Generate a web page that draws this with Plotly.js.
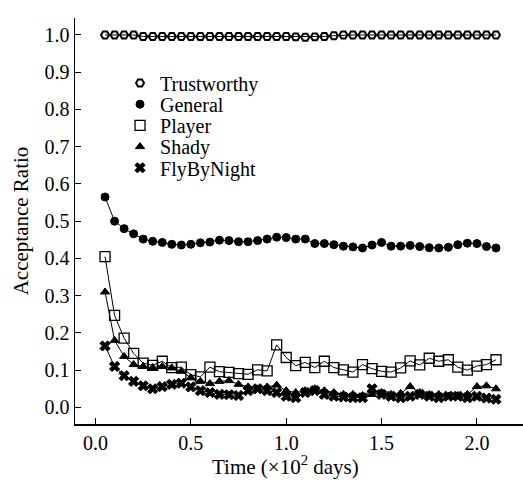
<!DOCTYPE html>
<html>
<head>
<meta charset="utf-8">
<script src="https://cdn.plot.ly/plotly-3.0.1.min.js"></script>
<style>html,body{margin:0;padding:0;background:#fff;}#chart{width:523px;height:488px;}</style>
</head>
<body>
<div id="chart"></div>
<script>
var time = [0.05,0.10,0.15,0.20,0.25,0.30,0.35,0.40,0.45,0.50,0.55,0.60,0.65,0.70,0.75,0.80,0.85,0.90,0.95,1.00,1.05,1.10,1.15,1.20,1.25,1.30,1.35,1.40,1.45,1.50,1.55,1.60,1.65,1.70,1.75,1.80,1.85,1.90,1.95,2.00,2.05,2.10];

var trustworthy = [1.0,1.0,1.0,1.0,0.996,0.996,0.996,0.996,0.996,0.996,0.996,0.996,0.996,0.996,0.996,0.996,0.996,0.996,0.996,0.996,0.995,0.994,0.995,0.996,0.998,1.0,1.0,1.0,1.0,1.0,1.0,1.0,1.0,1.0,1.0,1.0,1.0,1.0,1.0,1.0,1.0,1.0];
var general = [0.565,0.500,0.480,0.466,0.452,0.446,0.443,0.438,0.436,0.438,0.442,0.444,0.449,0.448,0.445,0.445,0.448,0.452,0.457,0.456,0.452,0.452,0.440,0.440,0.437,0.433,0.431,0.428,0.436,0.443,0.433,0.433,0.435,0.432,0.429,0.428,0.430,0.437,0.441,0.440,0.432,0.428];
var player = [0.405,0.247,0.186,0.145,0.119,0.113,0.124,0.107,0.108,0.088,0.082,0.108,0.096,0.094,0.091,0.089,0.101,0.098,0.168,0.134,0.112,0.121,0.107,0.124,0.107,0.101,0.095,0.115,0.104,0.097,0.095,0.106,0.125,0.114,0.132,0.124,0.128,0.108,0.100,0.111,0.115,0.128];
var shady = [0.310,0.180,0.137,0.115,0.110,0.107,0.110,0.106,0.097,0.080,0.070,0.064,0.070,0.072,0.062,0.055,0.050,0.055,0.060,0.045,0.040,0.045,0.050,0.045,0.040,0.035,0.035,0.032,0.035,0.040,0.035,0.038,0.056,0.040,0.035,0.035,0.030,0.032,0.035,0.056,0.058,0.050];
var flyByNight = [0.165,0.110,0.085,0.070,0.058,0.050,0.056,0.062,0.065,0.055,0.045,0.040,0.035,0.034,0.032,0.045,0.050,0.045,0.040,0.030,0.026,0.040,0.045,0.035,0.030,0.028,0.026,0.026,0.050,0.035,0.030,0.026,0.030,0.035,0.030,0.026,0.030,0.030,0.026,0.030,0.025,0.022];

var seriesNames = ['Trustworthy','General','Player','Shady','FlyByNight'];
var seriesData = [trustworthy, general, player, shady, flyByNight];
var symbols = ['hexagon2-open','circle','square-open','triangle-up','x'];
var sizes = [8,8,10,8,9];
var lineW = [2,1,1.3,1,1];

var FAM = 'Liberation Serif';
var traces = [];
seriesData.forEach(function(d,i){
  traces.push({
    x: time, y: d, name: seriesNames[i], type:'scatter', mode:'lines+markers', showlegend:false,
    line:{color:'#000', width:1},
    marker:{symbol:symbols[i], size:sizes[i], color:'#000', line:{color:'#000', width:lineW[i]}}
  });
});
seriesNames.forEach(function(n,i){
  traces.push({
    x:[null], y:[null], name:n, type:'scatter', mode:'markers', showlegend:true,
    legend: i===0 ? 'legend' : 'legend'+(i+1),
    marker:{symbol:symbols[i], size:sizes[i], color:'#000', line:{color:'#000', width:lineW[i]}}
  });
});

var legY = [0.840,0.7877,0.7355,0.6833,0.6310];
var legX = 0.1005;
function mkLegend(y){
  return {x:legX, y:y, xanchor:'left', yanchor:'middle', bgcolor:'rgba(0,0,0,0)', borderwidth:0,
          font:{family:FAM, size:20, color:'#000'}};
}

var layout = {
  width:523, height:488,
  margin:{l:75, r:0, t:18, b:64},
  paper_bgcolor:'#fff', plot_bgcolor:'#fff',
  font:{family:FAM, size:20, color:'#000'},
  showlegend:true,
  legend:mkLegend(legY[0]), legend2:mkLegend(legY[1]), legend3:mkLegend(legY[2]),
  legend4:mkLegend(legY[3]), legend5:mkLegend(legY[4]),
  xaxis:{
    range:[-0.1075, 2.2417], tickvals:[0,0.5,1.0,1.5,2.0], ticktext:['0.0','0.5','1.0','1.5','2.0'],
    ticks:'inside', ticklen:6, tickwidth:1, tickcolor:'#000',
    showline:true, linecolor:'#000', linewidth:1.5, showgrid:false, zeroline:false,
    tickfont:{family:FAM, size:20, color:'#000'}
  },
  yaxis:{
    range:[-0.0445, 1.0456], tickvals:[0,0.1,0.2,0.3,0.4,0.5,0.6,0.7,0.8,0.9,1.0],
    ticktext:['0.0','0.1','0.2','0.3','0.4','0.5','0.6','0.7','0.8','0.9','1.0'],
    ticks:'inside', ticklen:6, tickwidth:1, tickcolor:'#000',
    showline:true, linecolor:'#000', linewidth:1.5, showgrid:false, zeroline:false,
    title:{text:'Acceptance Ratio', font:{family:FAM, size:21, color:'#000'}, standoff:10},
    tickfont:{family:FAM, size:20, color:'#000'}
  },
  annotations:[{
    text:'Time (×10<sup>2</sup> days)', xref:'paper', yref:'paper', x:0.47, y:-0.063,
    xanchor:'center', yanchor:'top', showarrow:false, font:{family:FAM, size:21, color:'#000'}
  }]
};
Plotly.newPlot('chart', traces, layout, {displayModeBar:false, staticPlot:true});
</script>
</body>
</html>
